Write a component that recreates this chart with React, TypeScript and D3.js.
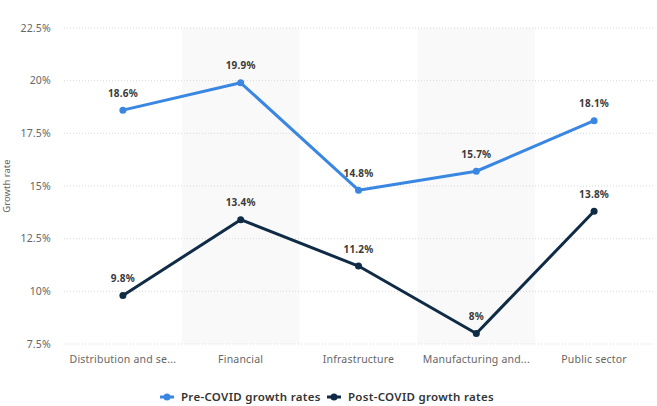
import React from "react";
import * as d3 from "d3";

const categories = ["Distribution and se...", "Financial", "Infrastructure", "Manufacturing and...", "Public sector"];
const preCovid = [18.6, 19.9, 14.8, 15.7, 18.1];
const postCovid = [9.8, 13.4, 11.2, 8, 13.8];
const yTicks = [7.5, 10, 12.5, 15, 17.5, 20, 22.5];
const seriesNames = ["Pre-COVID growth rates", "Post-COVID growth rates"];
const seriesColors = ["#3987e2", "#0f2b45"];

const W = 657, H = 406;
const margin = { left: 64, right: 4, top: 28, bottom: 62 };

function fmt(v: number) {
  return String(v).replace(/\.0$/, "") + "%";
}

export default function App() {
  const x = d3.scaleBand<string>().domain(categories).range([margin.left, W - margin.right]);
  const y = d3.scaleLinear().domain([7.5, 22.5]).range([344, 28]);
  const line = d3.line<number>().x((_, i) => x(categories[i])! + x.bandwidth() / 2).y(d => y(d));
  const series = [preCovid, postCovid];
  const font = "'Noto Sans', sans-serif";
  return (
    <svg width={W} height={H} style={{ position: "absolute", left: 0, top: 0 }} fontFamily={font}>
      <rect width={W} height={H} fill="#fff" />
      {categories.map((c, i) => i % 2 === 1 ? (
        <rect key={c} x={x(c)} y={y(22.5)} width={x.bandwidth()} height={y(7.5) - y(22.5)} fill="#f9f9f9" />
      ) : null)}
      {yTicks.map(t => (
        <g key={t}>
          <line x1={margin.left} x2={W - margin.right} y1={y(t)} y2={y(t)} stroke="#d9d9d9" strokeDasharray="1,2" />
          <text x={51} y={y(t)} dy="0.35em" textAnchor="end" fontSize={10.5} fill="#666" letterSpacing={0.2}>{fmt(t)}</text>
        </g>
      ))}
      <text transform={`translate(10,${(y(7.5) + y(22.5)) / 2}) rotate(-90)`} textAnchor="middle" fontSize={9.5} fill="#666">Growth rate</text>
      {categories.map(c => (
        <text key={c} x={x(c)! + x.bandwidth() / 2} y={359} dy="0.35em" textAnchor="middle" fontSize={10.5} fill="#666" letterSpacing={0.2}>{c}</text>
      ))}
      {series.map((s, si) => (
        <g key={si}>
          <path d={line(s)!} fill="none" stroke={seriesColors[si]} strokeWidth={3} strokeLinejoin="round" />
          {s.map((v, i) => (
            <circle key={i} cx={x(categories[i])! + x.bandwidth() / 2} cy={y(v)} r={3.5} fill={seriesColors[si]} />
          ))}
          {s.map((v, i) => (
            <text key={"l" + i} x={x(categories[i])! + x.bandwidth() / 2} y={y(v) - 17} dy="0.35em" textAnchor="middle" fontSize={10} fontWeight="bold" fill="#3a3a3a" letterSpacing={0.2}>{fmt(v)}</text>
          ))}
        </g>
      ))}
      {(() => {
        const items = [{ x: 160 }, { x: 327 }];
        return items.map((it, i) => (
          <g key={i}>
            <line x1={it.x} x2={it.x + 14} y1={397} y2={397} stroke={seriesColors[i]} strokeWidth={3} />
            <circle cx={it.x + 7} cy={397} r={3.5} fill={seriesColors[i]} />
            <text x={it.x + 21} y={397} dy="0.35em" fontSize={11.5} fontWeight={600} fill="#333" letterSpacing={0.3}>{seriesNames[i]}</text>
          </g>
        ));
      })()}
    </svg>
  );
}
